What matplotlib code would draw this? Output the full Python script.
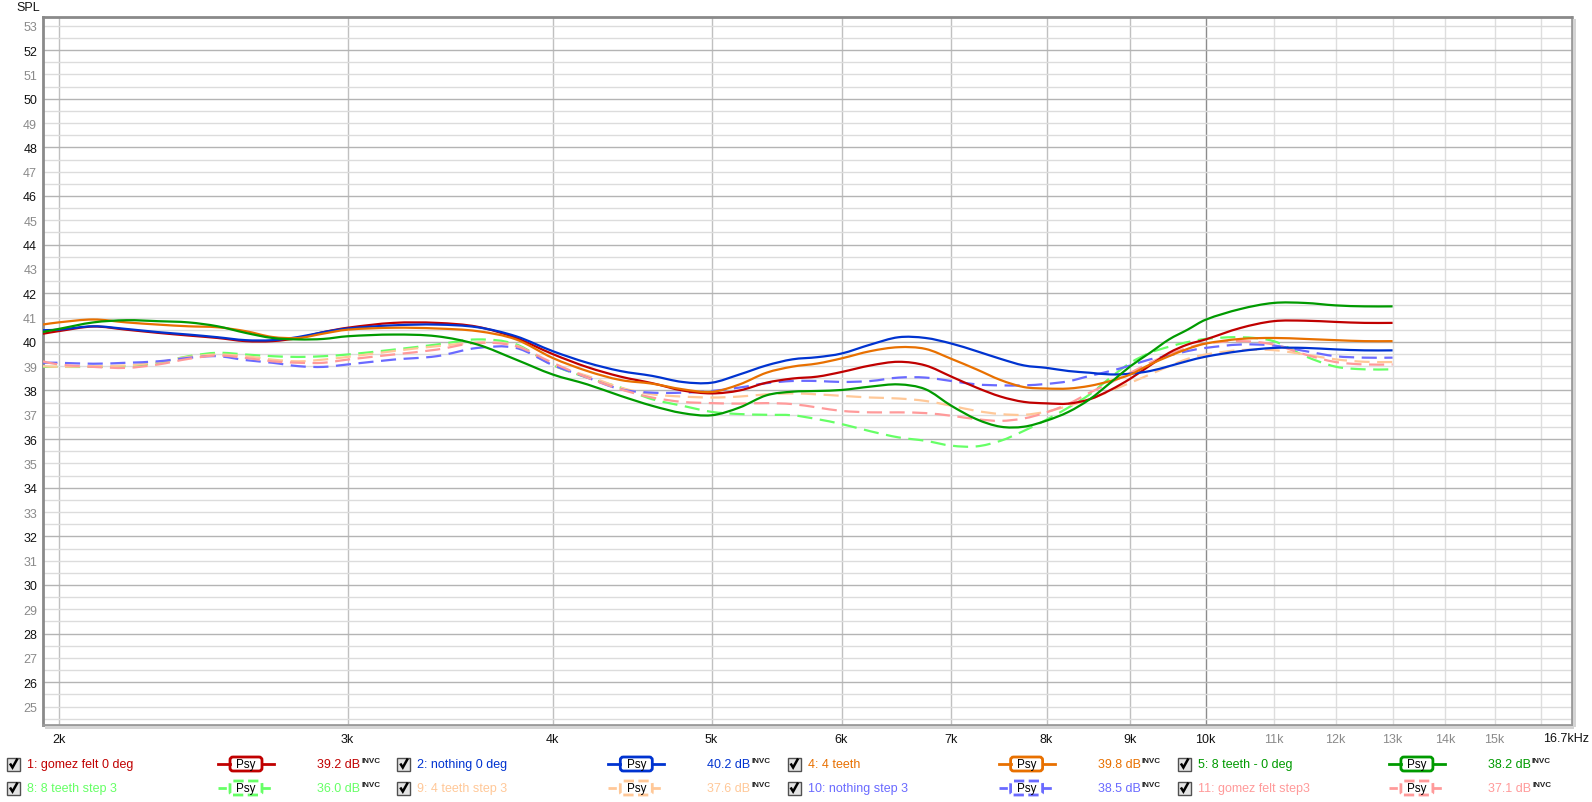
import matplotlib
matplotlib.use("Agg")
import numpy as np
import matplotlib.pyplot as plt
from matplotlib.patches import Rectangle, FancyBboxPatch, PathPatch
from matplotlib.path import Path
from matplotlib.lines import Line2D
from matplotlib.transforms import IdentityTransform

plt.rcParams['font.family'] = ['Liberation Sans', 'DejaVu Sans']

# ---------------- data ----------------
freq = [1955, 2000, 2100, 2200, 2300, 2400, 2500, 2600, 2700, 2800, 2900, 3000,
        3200, 3400, 3600, 3800, 4000, 4200, 4400, 4600, 4800, 5000, 5200, 5400,
        5600, 5800, 6000, 6250, 6500, 6750, 7000, 7250, 7500, 7750, 8000, 8250,
        8500, 8750, 9000, 9250, 9500, 9750, 10000, 10500, 11000, 11500, 12000,
        12500, 13000]

gomez_felt_0deg = [40.33, 40.44, 40.63, 40.50, 40.37, 40.26, 40.16, 40.03, 40.03, 40.16, 40.40, 40.58,
                   40.78, 40.78, 40.62, 40.16, 39.50, 38.96, 38.57, 38.30, 38.00, 37.88, 38.00, 38.32,
                   38.49, 38.57, 38.76, 39.03, 39.18, 39.03, 38.57, 38.12, 37.75, 37.53, 37.47, 37.46,
                   37.64, 38.02, 38.49, 39.03, 39.55, 39.89, 40.10, 40.57, 40.85, 40.87, 40.82,
                   40.78, 40.78]
nothing_0deg = [40.48, 40.50, 40.64, 40.53, 40.40, 40.30, 40.19, 40.07, 40.07, 40.20, 40.40, 40.55,
                40.68, 40.71, 40.60, 40.23, 39.62, 39.14, 38.80, 38.60, 38.35, 38.32, 38.66, 39.03,
                39.28, 39.37, 39.52, 39.89, 40.19, 40.16, 39.93, 39.62, 39.30, 39.03, 38.93, 38.80,
                38.73, 38.66, 38.69, 38.80, 39.00, 39.21, 39.39, 39.62, 39.75, 39.75, 39.69,
                39.65, 39.65]
four_teeth = [40.71, 40.80, 40.92, 40.80, 40.71, 40.64, 40.60, 40.44, 40.20, 40.16, 40.34, 40.50,
              40.58, 40.55, 40.44, 40.10, 39.34, 38.80, 38.43, 38.28, 38.05, 37.94, 38.25, 38.73,
              38.98, 39.11, 39.32, 39.62, 39.78, 39.71, 39.30, 38.87, 38.43, 38.14, 38.08, 38.08,
              38.19, 38.39, 38.66, 39.07, 39.41, 39.71, 39.93, 40.12, 40.16, 40.12, 40.07,
              40.03, 40.03]
eight_teeth_0deg = [40.40, 40.53, 40.80, 40.89, 40.85, 40.80, 40.64, 40.37, 40.16, 40.10, 40.12, 40.23,
                    40.30, 40.23, 39.89, 39.27, 38.66, 38.25, 37.78, 37.37, 37.07, 36.98, 37.30, 37.80,
                    37.95, 37.98, 38.02, 38.16, 38.25, 38.05, 37.37, 36.82, 36.51, 36.51, 36.76, 37.12,
                    37.64, 38.32, 39.00, 39.55, 40.10, 40.50, 40.91, 41.35, 41.60, 41.60, 41.50,
                    41.46, 41.46]
eight_teeth_step3 = [38.97, 38.97, 38.97, 39.00, 39.14, 39.41, 39.55, 39.48, 39.41, 39.38, 39.41, 39.48,
                     39.68, 39.89, 40.10, 39.90, 39.05, 38.53, 38.12, 37.64, 37.37, 37.12, 37.03, 37.00,
                     36.98, 36.82, 36.62, 36.32, 36.07, 35.93, 35.73, 35.70, 35.93, 36.34, 36.80, 37.30,
                     37.84, 38.53, 39.14, 39.55, 39.80, 39.99, 40.12, 40.19, 40.03, 39.41, 38.98,
                     38.87, 38.87]
four_teeth_step3 = [39.00, 38.97, 39.00, 39.03, 39.17, 39.38, 39.48, 39.41, 39.27, 39.20, 39.27, 39.38,
                    39.62, 39.82, 39.96, 39.85, 39.05, 38.60, 38.12, 37.84, 37.75, 37.71, 37.75, 37.84,
                    37.88, 37.84, 37.78, 37.71, 37.67, 37.57, 37.37, 37.16, 37.03, 37.00, 37.13, 37.37,
                    37.64, 37.98, 38.32, 38.66, 39.00, 39.30, 39.48, 39.66, 39.66, 39.48, 39.28,
                    39.18, 39.17]
nothing_step3 = [39.14, 39.14, 39.10, 39.14, 39.20, 39.34, 39.41, 39.25, 39.14, 39.00, 38.97, 39.07,
                 39.27, 39.41, 39.75, 39.75, 39.05, 38.53, 38.05, 37.91, 37.91, 37.98, 38.12, 38.30,
                 38.39, 38.39, 38.35, 38.39, 38.53, 38.53, 38.39, 38.25, 38.21, 38.21, 38.27, 38.38,
                 38.60, 38.80, 39.03, 39.28, 39.44, 39.62, 39.75, 39.89, 39.85, 39.62, 39.41,
                 39.35, 39.35]
gomez_felt_step3 = [39.20, 39.07, 38.97, 38.93, 39.07, 39.30, 39.44, 39.34, 39.20, 39.14, 39.14, 39.27,
                    39.48, 39.68, 39.96, 39.82, 39.14, 38.53, 38.05, 37.71, 37.53, 37.48, 37.46, 37.48,
                    37.44, 37.30, 37.16, 37.10, 37.10, 37.07, 36.96, 36.82, 36.75, 36.85, 37.10, 37.45,
                    37.91, 38.32, 38.73, 39.14, 39.48, 39.75, 39.93, 40.03, 39.89, 39.48, 39.17,
                    39.07, 39.07]

series_names = ["1: gomez felt 0 deg", "2: nothing 0 deg", "4: 4 teeth", "5: 8 teeth - 0 deg",
                "8: 8 teeth step 3", "9: 4 teeth step 3", "10: nothing step 3", "11: gomez felt step3"]
series_values = [gomez_felt_0deg, nothing_0deg, four_teeth, eight_teeth_0deg,
                 eight_teeth_step3, four_teeth_step3, nothing_step3, gomez_felt_step3]
series_levels = ["39.2", "40.2", "39.8", "38.2", "36.0", "37.6", "38.5", "37.1"]
series_colors = ["#c00000", "#0033d0", "#e87000", "#009a00",
                 "#66ff66", "#ffc898", "#6a6aff", "#ff9a9a"]
series_dashed = [False, False, False, False, True, True, True, True]

x_ticks = [2000, 3000, 4000, 5000, 6000, 7000, 8000, 9000, 10000,
           11000, 12000, 13000, 14000, 15000, 16000]
x_labels = ["2k", "3k", "4k", "5k", "6k", "7k", "8k", "9k", "10k",
            "11k", "12k", "13k", "14k", "15k", ""]
y_ticks = list(range(25, 54))

FS = 9.0

# ---------------- figure ----------------
W, H = 1592, 803
fig = plt.figure(figsize=(W / 100, H / 100), dpi=100)
fig.patch.set_facecolor("white")

L, R, T, B = 42.7, 1571.5, 18.3, 726.0
ax = fig.add_axes([L / W, 1 - B / H, (R - L) / W, (B - T) / H])
ax.set_xscale("log")
ax.set_xlim(1956, 16710)
ax.set_ylim(24.24, 53.35)

# grid
for f in x_ticks:
    if f == 10000:
        c = "#8c8c8c"
    elif f < 10000:
        c = "#c0c0c0"
    else:
        c = "#dedede"
    ax.axvline(f, color=c, lw=1.0, zorder=1)
for i in range(24 * 2 + 1, 54 * 2 + 1):
    v = i / 2
    if v == int(v) and int(v) % 2 == 0:
        c = "#b4b4b4"
    else:
        c = "#dcdcdc"
    ax.axhline(v, color=c, lw=1.0, zorder=1)


def smooth_path(fx, vy):
    """Cubic Bezier path through the measured points (Catmull-Rom tangents in log-f)."""
    lx = np.log10(np.asarray(fx, float))
    y = np.asarray(vy, float)
    n = len(lx)
    verts = [(fx[0], y[0])]
    codes = [Path.MOVETO]
    for i in range(n - 1):
        i0 = max(i - 1, 0)
        i3 = min(i + 2, n - 1)
        h = lx[i + 1] - lx[i]
        m1 = (y[i + 1] - y[i0]) / (lx[i + 1] - lx[i0])
        m2 = (y[i3] - y[i]) / (lx[i3] - lx[i])
        c1x = lx[i] + h / 3
        c1y = y[i] + m1 * h / 3
        c2x = lx[i + 1] - h / 3
        c2y = y[i + 1] - m2 * h / 3
        verts += [(10 ** c1x, c1y), (10 ** c2x, c2y), (fx[i + 1], y[i + 1])]
        codes += [Path.CURVE4] * 3
    return Path(verts, codes)


# curves
for vals, col, dsh in zip(series_values, series_colors, series_dashed):
    p = smooth_path(freq, vals)
    if dsh:
        patch = PathPatch(p, facecolor="none", edgecolor=col, lw=1.6,
                          linestyle=(0, (6.8, 3.4)), zorder=3, capstyle="butt")
    else:
        patch = PathPatch(p, facecolor="none", edgecolor=col, lw=1.6, zorder=4)
    ax.add_patch(patch)

# ticks
ax.xaxis.set_major_locator(matplotlib.ticker.FixedLocator(x_ticks))
ax.xaxis.set_minor_locator(matplotlib.ticker.NullLocator())
ax.set_xticklabels(x_labels)
ax.set_yticks(y_ticks)
ax.set_yticklabels([str(v) for v in y_ticks])
ax.tick_params(axis="both", length=0, labelsize=FS)
ax.tick_params(axis="x", pad=6)
ax.tick_params(axis="y", pad=4)
for lab, f in zip(ax.get_xticklabels(), x_ticks):
    lab.set_color("#111111" if f <= 10000 else "#8a8a8a")
for lab, v in zip(ax.get_yticklabels(), y_ticks):
    lab.set_color("#111111" if v % 2 == 0 else "#8a8a8a")

for s in ax.spines.values():
    s.set_color("#9a9a9a")
    s.set_linewidth(2.0)
ax.spines["top"].set_color("#8a8a8a")
ax.spines["left"].set_color("#8a8a8a")

fig.text(1589 / W, 1 - 739 / H, "16.7kHz", ha="right", va="center", fontsize=FS, color="#111111")
fig.text(16 / W, 1 - 8 / H, "SPL", ha="left", va="center", fontsize=FS, color="#111111")

# shadow of frame
ident = IdentityTransform()
fig.patches.append(Rectangle((R + 1, H - B - 2), 3, B - T, transform=ident,
                             facecolor="#d4d4d4", edgecolor="none", zorder=0))
fig.patches.append(Rectangle((L + 2, H - B - 4), R - L, 3, transform=ident,
                             facecolor="#d4d4d4", edgecolor="none", zorder=0))

# ---------------- legend ----------------
row_y = [765, 789]
col_x0 = [7 + 390.3 * k for k in range(4)]
fig.canvas.draw()
renderer = fig.canvas.get_renderer()

for idx, (name, lvl, col, dsh) in enumerate(zip(series_names, series_levels,
                                                 series_colors, series_dashed)):
    r = idx // 4
    c = idx % 4
    x0 = col_x0[c]
    yc = row_y[r]
    yd = H - yc
    # checkbox
    fig.patches.append(Rectangle((x0, yd - 6.5), 13, 13, transform=ident,
                                 facecolor="#e4e4e4", edgecolor="#505050", lw=1.0))
    fig.lines.append(Line2D([x0 + 3, x0 + 5.5, x0 + 10.5], [yd + 0.5, yd - 3.5, yd + 5.5],
                            transform=ident, color="black", lw=1.8,
                            solid_capstyle="butt", solid_joinstyle="miter"))
    # name
    fig.text((x0 + 20) / W, 1 - yc / H, name, ha="left", va="center",
             fontsize=FS, color=col)
    # line sample with Psy box
    cx = x0 + 239
    ls = (0, (3.0, 2.2)) if dsh else "-"
    fig.lines.append(Line2D([x0 + 211, cx - 16], [yd, yd], transform=ident,
                            color=col, lw=2.0, linestyle=ls))
    fig.lines.append(Line2D([cx + 16, x0 + 267], [yd, yd], transform=ident,
                            color=col, lw=2.0, linestyle=ls))
    fig.patches.append(FancyBboxPatch((cx - 16, yd - 7), 32, 14, transform=ident,
                                      boxstyle="round,pad=0,rounding_size=3",
                                      facecolor="white", edgecolor=col, lw=2.0,
                                      linestyle=("--" if dsh else "-")))
    fig.text(cx / W, 1 - (yc + 0.5) / H, "Psy", ha="center", va="center",
             fontsize=8.4, color="black")
    # level
    t = fig.text((x0 + 310) / W, 1 - yc / H, lvl + " dB", ha="left", va="center",
                 fontsize=FS, color=col)
    bb = t.get_window_extent(renderer=renderer)
    fig.text((bb.x1 + 1) / W, (bb.y1 + 1) / H, "INVC", ha="left", va="top",
             fontsize=5.8, color="#202020", fontweight="bold")

fig.savefig("out.png", dpi=100)
